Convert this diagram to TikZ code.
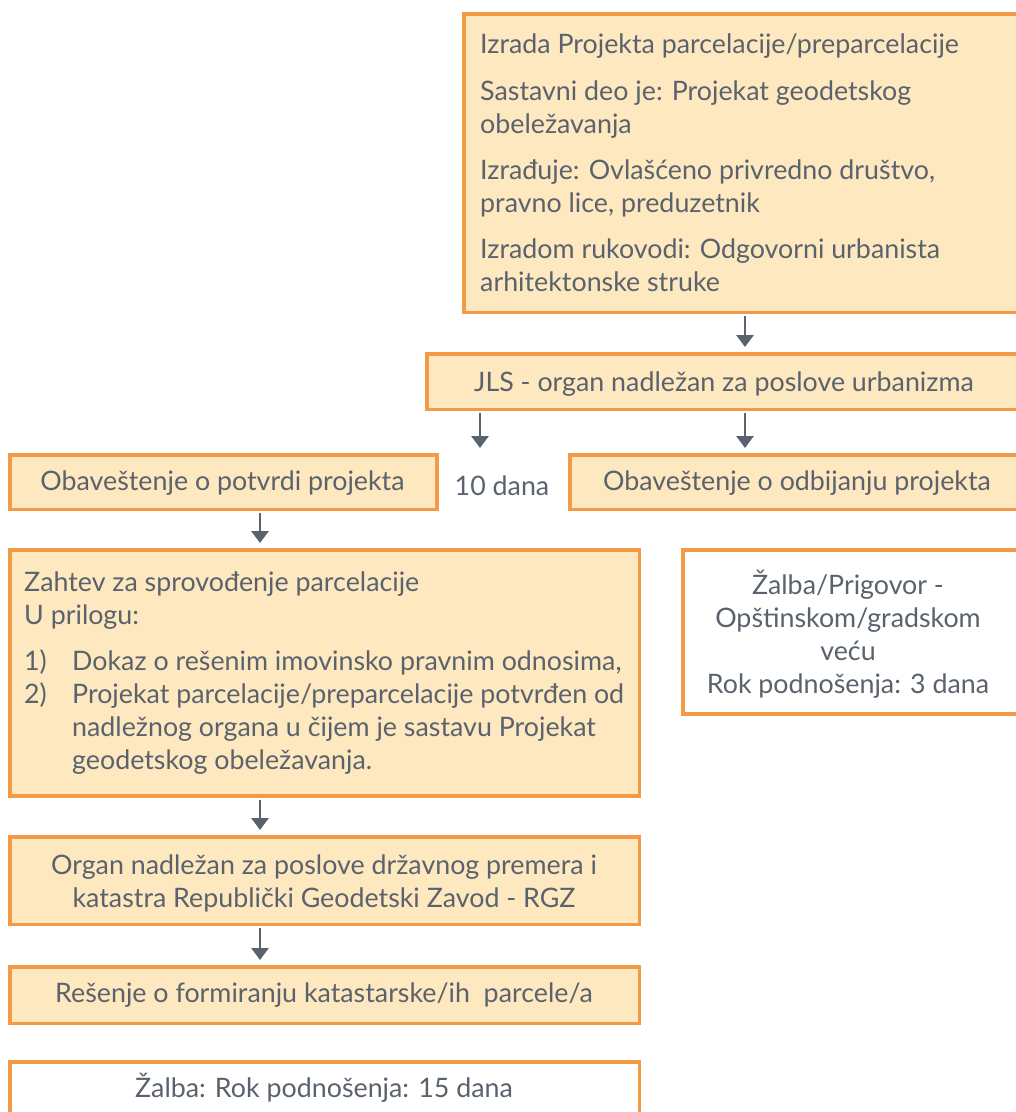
\documentclass[tikz,border=0pt]{standalone}
\usepackage{fontspec}
\setmainfont{Lato}
\usetikzlibrary{arrows.meta}
\definecolor{boxfill}{HTML}{FEE8BF}
\definecolor{boxline}{HTML}{F29A45}
\definecolor{ink}{HTML}{5A636D}
\newcommand{\itemlab}[1]{\makebox[48bp][l]{#1}}
\newcommand{\itemgap}{\hspace*{48bp}}
\begin{document}
\begin{tikzpicture}[x=1bp,y=-1bp,
  every node/.style={font=\fontsize{26.8bp}{33bp}\selectfont, text=ink},
  box/.style={draw=boxline, line width=3.5bp, fill=boxfill, rectangle, inner sep=0pt},
  whitebox/.style={draw=boxline, line width=3.5bp, fill=white, rectangle, inner sep=0pt},
  txt/.style={inner sep=0pt},
  flow/.style={draw=ink, line width=2.8bp, -{Triangle[width=17bp,length=12bp]}, shorten <=2bp, shorten >=5bp}]
\useasboundingbox (0,0) rectangle (1016,1112);
\fill[white] (0,0) rectangle (1016,1112);

% Top: project preparation
\node[box, anchor=north west, minimum width=560, minimum height=300] (izr) at (462,12) {};
\node[txt, anchor=north west, align=left] (izrtxt) at (480,34)
  {Izrada Projekta parcelacije/preparcelacije\\[14bp]
   Sastavni deo je: Projekat geodetskog\\ obeležavanja\\[13bp]
   Izrađuje: Ovlašćeno privredno društvo,\\ pravno lice, preduzetnik\\[13bp]
   Izradom rukovodi: Odgovorni urbanista\\ arhitektonske struke};

% Local authority
\node[box, anchor=north west, minimum width=600, minimum height=56] (jls) at (425,352) {};
\node[txt] (jlstxt) at (724,384) {JLS - organ nadležan za poslove urbanizma};

% Notifications
\node[box, anchor=north west, minimum width=429, minimum height=55] (potv) at (8,453) {};
\node[txt] (potvtxt) at (222.5,483) {Obaveštenje o potvrdi projekta};
\node[txt] (rok10) at (502,486) {10 dana};
\node[box, anchor=north west, minimum width=455, minimum height=55] (odb) at (568,453) {};
\node[txt] (odbtxt) at (797,483) {Obaveštenje o odbijanju projekta};

% Request for implementation
\node[box, anchor=north west, minimum width=632, minimum height=247] (zah) at (8,548) {};
\node[txt, anchor=north west, align=left] (zahtxt) at (24,572)
  {Zahtev za sprovođenje parcelacije\\
   U prilogu:\\[13bp]
   \itemlab{1)}Dokaz o rešenim imovinsko pravnim odnosima,\\
   \itemlab{2)}Projekat parcelacije/preparcelacije potvrđen od\\
   \itemgap nadležnog organa u čijem je sastavu Projekat\\
   \itemgap geodetskog obeležavanja.};

% Appeal to the council
\node[whitebox, anchor=north west, minimum width=342, minimum height=165] (prig) at (681,548) {};
\node[txt, align=center] (prigtxt) at (848,634)
  {Žalba/Prigovor -\\ Opštinskom/gradskom\\ veću\\ Rok podnošenja: 3 dana};

% Cadastre authority
\node[box, anchor=north west, minimum width=632, minimum height=88] (rgz) at (8,835) {};
\node[txt, align=center] (rgztxt) at (324,883)
  {Organ nadležan za poslove državnog premera i\\ katastra Republički Geodetski Zavod - RGZ};

% Decision
\node[box, anchor=north west, minimum width=632, minimum height=57] (res) at (8,965) {};
\node[txt] (restxt) at (324,995) {Rešenje o formiranju katastarske/ih\ \ parcele/a};

% Final appeal
\node[whitebox, anchor=north west, minimum width=632, minimum height=80] (zal) at (8,1060) {};
\node[txt] (zaltxt) at (324,1088) {Žalba: Rok podnošenja: 15 dana};

% Connectors
\coordinate (cR) at (745,0);
\coordinate (cL) at (480,0);
\coordinate (cM) at (260,0);
\draw[flow] (izr.south -| cR) -- (jls.north -| cR);
\draw[flow] (jls.south -| cL) -- (potv.north -| cL);
\draw[flow] (jls.south -| cR) -- (odb.north -| cR);
\draw[flow] (potv.south -| cM) -- (zah.north -| cM);
\draw[flow] (zah.south -| cM) -- (rgz.north -| cM);
\draw[flow] (rgz.south -| cM) -- (res.north -| cM);
\end{tikzpicture}
\end{document}
